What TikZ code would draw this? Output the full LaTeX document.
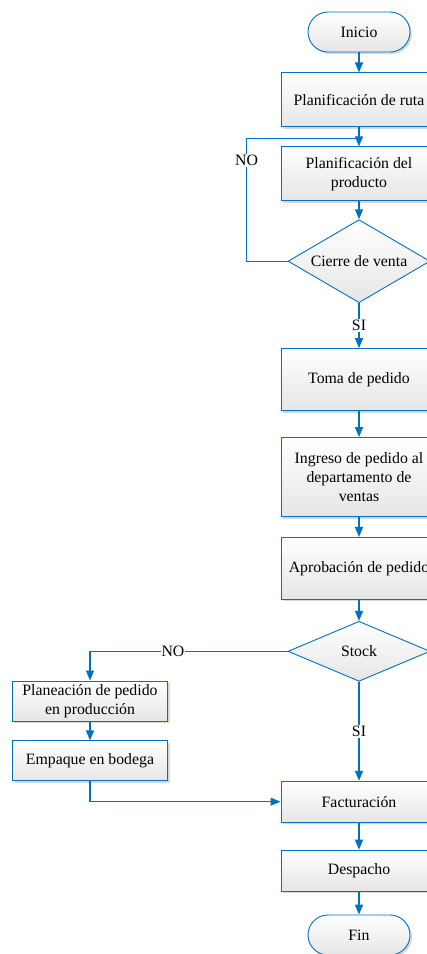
\documentclass[tikz,border=0pt]{standalone}
\usepackage{fontspec}
\setmainfont{Liberation Serif}
\usetikzlibrary{arrows.meta,positioning,shapes.geometric,shadows}
\definecolor{flowblue}{RGB}{0,112,192}

\begin{document}
\begin{tikzpicture}[x=1pt,y=-1pt,font=\fontsize{15.8}{19.3}\selectfont,
 proc/.style={draw=flowblue,line width=0.9pt,top color=white,bottom color=black!10,minimum width=156pt,align=center,inner sep=2pt,
   drop shadow={shadow xshift=2pt,shadow yshift=-2pt,fill=black!30,opacity=.5}},
 side/.style={proc,minimum width=155pt,minimum height=40pt},
 term/.style={proc,rounded corners=20pt,minimum width=102pt,minimum height=40pt},
 dec/.style={diamond,draw=flowblue,line width=0.9pt,top color=white,bottom color=black!10,aspect=1.7,inner sep=0pt,minimum width=142pt},
 flow/.style={draw=flowblue,line width=1.2pt},
 arr/.style={flow,-{Triangle[length=10pt,width=8pt]}},
 lbl/.style={fill=white,inner sep=1pt}]
\path[use as bounding box,clip] (0,0) rectangle (427,954);
% main column
\node[term] (inicio) at (359,32) {Inicio};
\node[proc,minimum height=54pt,below=20pt of inicio] (ruta) {Planificación de ruta};
\node[proc,minimum height=54pt,below=19pt of ruta] (prod) {Planificación del\\producto};
\node[dec,minimum height=83pt,below=18pt of prod] (cierre) {Cierre de venta};
\node[proc,minimum height=62pt,below=45pt of cierre] (toma) {Toma de pedido};
\node[proc,minimum height=79pt,below=26pt of toma] (ingreso) {Ingreso de pedido al\\departamento de\\ventas};
\node[proc,minimum height=62pt,below=20pt of ingreso] (aprob) {Aprobación de pedido};
\node[dec,minimum height=60pt,below=21pt of aprob] (stock) {Stock};
\node[proc,minimum height=41pt,below=99pt of stock] (fact) {Facturación};
\node[proc,minimum height=41pt,below=27pt of fact] (desp) {Despacho};
\node[term,below=23pt of desp] (fin) {Fin};
% side branch
\node[side] (plan) at (90,701) {Planeación de pedido\\en producción};
\node[side,below=19pt of plan] (emp) {Empaque en bodega};
% connectors
\draw[arr] (inicio)--(ruta);\draw[arr] (ruta)--(prod);\draw[arr] (prod)--(cierre);
\draw[flow] (cierre.west)-- ++(-41,0) |- ([yshift=8pt]prod.north) node[lbl,pos=.41] {NO};
\draw[arr] (cierre)-- node[lbl] {SI} (toma);
\draw[arr] (toma)--(ingreso);\draw[arr] (ingreso)--(aprob);\draw[arr] (aprob)--(stock);
\draw[arr] (stock.west) -| (plan.north) node[lbl,pos=.29] {NO};
\draw[arr] (stock)-- node[lbl] {SI} (fact);
\draw[arr] (plan)--(emp);
\draw[arr] (emp.south) |- (fact.west);
\draw[arr] (fact)--(desp);\draw[arr] (desp)--(fin);
\end{tikzpicture}
\end{document}
